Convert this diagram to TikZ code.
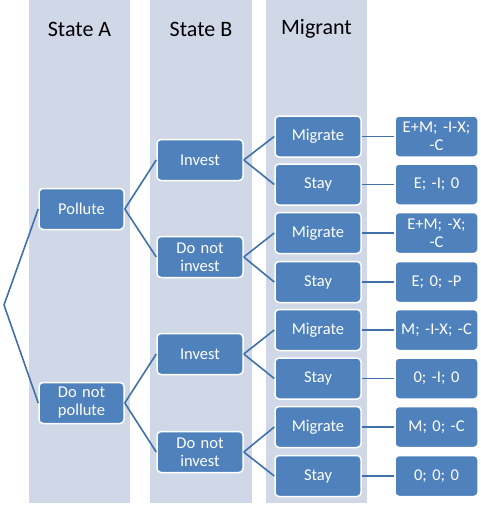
\documentclass[tikz,border=0pt]{standalone}
\usepackage{fontspec}
\setmainfont{Carlito}
\definecolor{band}{HTML}{D0D8E8}
\definecolor{boxblue}{HTML}{4F81BD}
\definecolor{linkblue}{HTML}{4171AA}
\begin{document}
\begin{tikzpicture}[x=1pt,y=-1pt,
  bx/.style={draw=white, line width=1.5pt, fill=boxblue, rounded corners=4pt,
    text=white, font=\fontsize{16.5}{18}\selectfont, align=center,
    minimum height=41pt, inner sep=1pt},
  colA/.style={bx, minimum width=85pt, text width=80pt},
  colM/.style={bx, minimum width=86pt, text width=80pt},
  colP/.style={bx, minimum width=83pt, text width=80pt},
  link/.style={draw=linkblue, line width=1.6pt},
  hdr/.style={font=\fontsize{22}{24}\selectfont, text=black}]
\useasboundingbox (0,0) rectangle (480,506);
% bands
\fill[band] (29,0) rectangle (130,503);
\fill[band] (150,0) rectangle (252,503);
\fill[band] (266,0) rectangle (367,503);
% headers
\node[hdr] (hA) at (79.5,29) {State A};
\node[hdr] (hB) at (201,29) {State B};
\node[hdr] (hM) at (316.5,29) {Migrant};
% State A
\node[colA] (p) at (81.5,209) {Pollute};
\node[colA] (np) at (81.5,403) {Do not\\pollute};
% State B
\node[colM] (i1) at (200,160) {Invest};
\node[colM] (n1) at (200,257) {Do not\\invest};
\node[colM] (i2) at (200,354) {Invest};
\node[colM] (n2) at (200,452) {Do not\\invest};
% Migrant
\node[colM] (m1) at (318,136.5) {Migrate};
\node[colM] (s1) at (318,184.5) {Stay};
\node[colM] (m2) at (318,233) {Migrate};
\node[colM] (s2) at (318,282) {Stay};
\node[colM] (m3) at (318,330) {Migrate};
\node[colM] (s3) at (318,378.5) {Stay};
\node[colM] (m4) at (318,427) {Migrate};
\node[colM] (s4) at (318,476) {Stay};
% Payoffs
\node[colP] (q1) at (436.5,136.5) {E+M; -I-X;\\-C};
\node[colP] (q2) at (436.5,184.5) {E; -I; 0};
\node[colP] (q3) at (436.5,233) {E+M; -X;\\-C};
\node[colP] (q4) at (436.5,282) {E; 0; -P};
\node[colP] (q5) at (436.5,330) {M; -I-X; -C};
\node[colP] (q6) at (436.5,378.5) {0; -I; 0};
\node[colP] (q7) at (436.5,427) {M; 0; -C};
\node[colP] (q8) at (436.5,476) {0; 0; 0};
% root
\coordinate (r) at (4,305);
% links
\draw[link] (r) -- (p.west);
\draw[link] (r) -- (np.west);
\draw[link] (p.east) -- (i1.west);
\draw[link] (p.east) -- (n1.west);
\draw[link] (np.east) -- (i2.west);
\draw[link] (np.east) -- (n2.west);
\draw[link] (i1.east) -- (m1.west);
\draw[link] (i1.east) -- (s1.west);
\draw[link] (n1.east) -- (m2.west);
\draw[link] (n1.east) -- (s2.west);
\draw[link] (i2.east) -- (m3.west);
\draw[link] (i2.east) -- (s3.west);
\draw[link] (n2.east) -- (m4.west);
\draw[link] (n2.east) -- (s4.west);
\draw[link] (m1.east) -- (q1.west);
\draw[link] (s1.east) -- (q2.west);
\draw[link] (m2.east) -- (q3.west);
\draw[link] (s2.east) -- (q4.west);
\draw[link] (m3.east) -- (q5.west);
\draw[link] (s3.east) -- (q6.west);
\draw[link] (m4.east) -- (q7.west);
\draw[link] (s4.east) -- (q8.west);
\end{tikzpicture}
\end{document}
